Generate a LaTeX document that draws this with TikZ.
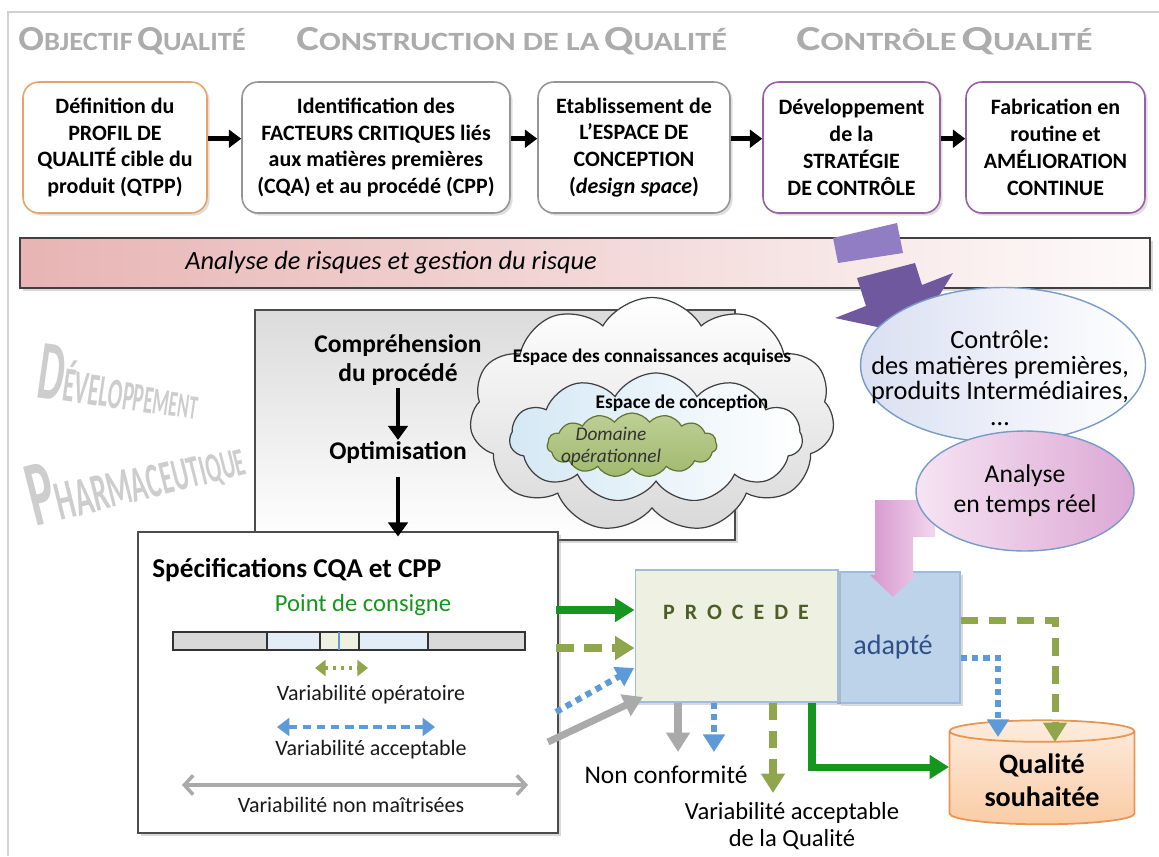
\documentclass[tikz,border=0pt]{standalone}
\usepackage{fontspec}
\usepackage{graphicx}
\setmainfont{Carlito}
\usetikzlibrary{arrows.meta,positioning,shapes.geometric,shapes.symbols,shadows}

\definecolor{hdrgray}{RGB}{172,172,172}
\definecolor{qtppor}{RGB}{233,163,103}
\definecolor{stagegray}{RGB}{150,150,150}
\definecolor{ctrlpurple}{RGB}{155,95,165}
\definecolor{riskpink}{RGB}{232,180,180}
\definecolor{olivegr}{RGB}{143,166,76}
\definecolor{setgreen}{RGB}{22,150,30}
\definecolor{varblue}{RGB}{92,155,215}
\definecolor{vargray}{RGB}{170,170,170}
\definecolor{procfill}{RGB}{238,240,226}
\definecolor{procline}{RGB}{160,188,220}
\definecolor{adaptfill}{RGB}{189,211,233}
\definecolor{adapttxt}{RGB}{47,80,135}
\definecolor{proctxt}{RGB}{78,92,38}
\definecolor{ellline}{RGB}{120,155,200}
\definecolor{arrpurple}{RGB}{112,88,158}
\definecolor{arrlilac}{RGB}{145,125,195}
\definecolor{pinkdark}{RGB}{215,150,205}
\definecolor{pinklight}{RGB}{242,215,238}
\definecolor{qualline}{RGB}{230,150,80}
\definecolor{devgray}{RGB}{205,205,205}

\newcommand{\hdrword}[2]{{\fontsize{20}{20}\selectfont #1}{\fontsize{15}{15}\selectfont #2}}

\begin{document}
\begin{tikzpicture}[x=0.02cm,y=-0.02cm,
  stage/.style={draw=stagegray, line width=0.9pt, rounded corners=9pt, fill=white, align=center,
    font=\fontsize{12.5}{15.3}\selectfont\bfseries, minimum height=2.62cm, inner sep=2pt,
    drop shadow={opacity=0.25,shadow xshift=1.5pt,shadow yshift=-1.5pt}},
  stagearrow/.style={-{Triangle[length=7pt,width=10pt]}, line width=3pt},
  hdr/.style={text=hdrgray, font=\bfseries, inner sep=0pt},
  devtxt/.style={text=devgray, font=\bfseries, inner sep=0pt},
  steptxt/.style={font=\fontsize{14.5}{17}\selectfont\bfseries, align=center, inner sep=1pt},
  downarrow/.style={-{Triangle[length=8pt,width=11pt]}, line width=2.8pt},
  puff/.style={cloud, cloud puffs=11, cloud puff arc=120, draw=black!75, line width=0.7pt},
  cloudtxt/.style={font=\fontsize{11}{12.5}\selectfont\bfseries, inner sep=0pt},
  spectxt/.style={font=\fontsize{12.5}{14}\selectfont, text=black!90, inner sep=0pt},
  okarrow/.style={setgreen, line width=4pt, -{Triangle[length=11pt,width=13pt]}},
  olivearrow/.style={olivegr, line width=4pt, dash pattern=on 10pt off 6pt, -{Triangle[length=11pt,width=13pt]}},
  bluearrow/.style={varblue, line width=3.5pt, dash pattern=on 3.5pt off 3pt, -{Triangle[length=10pt,width=12pt]}},
  grayarrow/.style={vargray, line width=4pt, -{Triangle[length=11pt,width=13pt]}},
  lbl/.style={font=\fontsize{14.5}{15.3}\selectfont, align=center, inner sep=0pt},
  boxshadow/.style={drop shadow={opacity=0.3,shadow xshift=1.5pt,shadow yshift=-1.5pt}},
]
\useasboundingbox (0,0) rectangle (1159,856);
\draw[line width=0.6pt, black!18] (8,856) -- (8,12) -- (1159,12);

% titres
\node[hdr, anchor=base west] (hobj) at (18,50) {\scalebox{1.08}[1]{\hdrword{O}{BJECTIF} \hdrword{Q}{UALITÉ}}};
\node[hdr, anchor=base west] (hcons) at (296,50) {\scalebox{1.22}[1]{\hdrword{C}{ONSTRUCTION DE LA} \hdrword{Q}{UALITÉ}}};
\node[hdr, anchor=base west] (hctrl) at (796,50) {\scalebox{1.3}[1]{\hdrword{C}{ONTRÔLE} \hdrword{Q}{UALITÉ}}};

% etapes
\node[stage, draw=qtppor, minimum width=3.68cm] (qtpp) at (115,147.5) {Définition du\\PROFIL DE\\QUALITÉ cible du\\produit (QTPP)};
\node[stage, minimum width=5.36cm] (crit) at (376,147.5) {Identification des\\FACTEURS CRITIQUES liés\\aux matières premières\\(CQA) et au procédé (CPP)};
\node[stage, minimum width=3.84cm] (space) at (634,147.5) {Etablissement de\\L’ESPACE DE\\CONCEPTION\\(\textit{design space})};
\node[stage, draw=ctrlpurple, minimum width=3.54cm] (strat) at (851.5,147.5) {Développement\\de la\\STRATÉGIE\\DE CONTRÔLE};
\node[stage, draw=ctrlpurple, minimum width=3.58cm] (fabr) at (1055.5,147.5) {Fabrication en\\routine et\\AMÉLIORATION\\CONTINUE};
\foreach \a/\b in {qtpp/crit, crit/space, space/strat, strat/fabr}
  \draw[stagearrow] ([yshift=5pt]\a.east) -- ([yshift=5pt]\b.west);

% risque
\node[draw=black!75, line width=0.9pt, minimum width=22.6cm, minimum height=1cm,
  left color=riskpink, right color=riskpink!6, boxshadow] (risk) at (585,263) {};
\node[font=\fontsize{15}{15}\selectfont\itshape, anchor=west, inner sep=0pt] (risktxt) at (185,263) {Analyse de risques et gestion du risque};

\fill[arrlilac] (833,238) -- (897,223) -- (903,253) -- (838,263) -- cycle;
\fill[arrpurple] (857,278) -- (915,263) -- (922,285) -- (953,273) -- (915,335) -- (835,318) -- (866,306) -- cycle;

\node[ellipse, draw=ellline, line width=0.8pt, minimum width=5.7cm, minimum height=3.1cm,
  left color={rgb,255:red,218;green,224;blue,242}, right color=white] (ctrl) at (1003,365) {};
\node[align=center, font=\fontsize{15}{14.6}\selectfont, inner sep=0pt] (ctrltxt) at (1000,378) {Contrôle:\\des matières premières,\\produits Intermédiaires,\\…};

% developpement
\node[devtxt, anchor=base west, rotate=-8] (devA) at (35,397) {\scalebox{0.49}[1]{{\fontsize{48}{48}\selectfont D}\foreach \l/\s in {É/28,V/27.2,E/26.4,L/25.6,O/24.8,P/24,P/23.2,E/22.4,M/21.6,E/20.8,N/20,T/19.4}{\fontsize{\s}{\s}\selectfont\l}}};
\node[devtxt, anchor=base west, rotate=14] (devB) at (35,527) {\scalebox{0.53}[1]{{\fontsize{53}{53}\selectfont P}\foreach \l/\s in {H/32,A/31.2,R/30.4,M/29.6,A/28.8,C/28,E/27.2,U/26.4,T/25.6,I/24.8,Q/24,U/23.2,E/22.4}{\fontsize{\s}{\s}\selectfont\l}}};

\draw[black!70, line width=0.9pt, top color=black!14, bottom color=white, boxshadow] (255,310) rectangle (735,540);
\node[steptxt] (proccomp) at (398,360) {Compréhension\\du procédé};
\node[steptxt] (optim) at (398,453) {Optimisation};
\draw[downarrow] (proccomp) -- (optim);

\node[puff, minimum width=7.3cm, minimum height=4.7cm, top color=white, bottom color=black!15] (known) at (652,415) {};
\node[puff, minimum width=5.86cm, minimum height=2.6cm, left color={rgb,255:red,212;green,232;blue,244}, right color=white] (dspace) at (656,438) {};
\node[puff, cloud puffs=15, cloud puff arc=110, draw=olivegr!70!black, minimum width=3.4cm, minimum height=1.28cm,
  top color={rgb,255:red,190;green,208;blue,150}, bottom color={rgb,255:red,160;green,185;blue,110}] (opdom) at (632,445) {};
\node[cloudtxt] (knowntxt) at (652,357) {Espace des connaissances acquises};
\node[cloudtxt] (dspacetxt) at (682,403) {Espace de conception};
\node[font=\fontsize{11}{12.5}\selectfont\itshape, text=black!80, align=center, inner sep=0pt] (opdomtxt) at (611,446) {Domaine\\opérationnel};

% specifications
\node[draw=black!70, line width=0.9pt, fill=white, minimum width=8.4cm, minimum height=6.02cm, boxshadow] (spec) at (348,682.5) {};
\draw[downarrow, shorten <=6pt] (optim) -- ([yshift=-3pt]spec.north -| optim);
\node[font=\fontsize{15.5}{15.5}\selectfont\bfseries, anchor=west, inner sep=0pt] (spectitle) at (152,570) {Spécifications CQA et CPP};
\node[font=\fontsize{14}{14}\selectfont, text=setgreen, inner sep=0pt] (setpt) at (363,605) {Point de consigne};
\foreach \a/\b/\c in {173/267/black!15, 267/320/varblue!18, 320/359/procfill, 359/428/varblue!18, 428/525/black!15}
  \draw[black!80, line width=0.7pt, fill=\c] (\a,632) rectangle (\b,650);
\draw[varblue, line width=1.2pt] (339,632) -- (339,650);
\coordinate (opL) at (315,668);
\coordinate (opR) at (368,668);
\draw[olivegr, line width=2.5pt, dash pattern=on 2pt off 2.5pt, {Triangle[length=6pt,width=9pt]}-{Triangle[length=6pt,width=9pt]}] (opL) -- (opR);
\node[spectxt] (varop) at (371,695) {Variabilité opératoire};
\coordinate (acL) at (277,727);
\coordinate (acR) at (435,727);
\draw[varblue, line width=2.2pt, dash pattern=on 5pt off 3pt, {Triangle[length=7pt,width=10pt]}-{Triangle[length=7pt,width=10pt]}] (acL) -- (acR);
\node[spectxt] (varac) at (371,750) {Variabilité acceptable};
\coordinate (nmL) at (182,785);
\coordinate (nmR) at (528,785);
\draw[vargray, line width=2pt, {Straight Barb[length=5pt,width=11pt]}-{Straight Barb[length=5pt,width=11pt]}] (nmL) -- (nmR);
\node[spectxt] (varnm) at (351,805) {Variabilité non maîtrisées};

% procede
\node[draw=procline, line width=0.6pt, fill=adaptfill, minimum width=2.44cm, minimum height=2.62cm, boxshadow] (adapt) at (899,637.5) {};
\shade[left color=pinkdark, right color=pinklight] (935,500) -- (875,500) -- (875,575) -- (870,575) -- (893,597) -- (916,575) -- (913,575) -- (913,537) -- (935,537) -- cycle;
\node[ellipse, draw=ellline, line width=0.8pt, minimum width=4.36cm, minimum height=2.4cm,
  left color={rgb,255:red,246;green,228;blue,243}, right color={rgb,255:red,220;green,168;blue,213}, align=center,
  font=\fontsize{14.6}{17}\selectfont, inner sep=0pt] (analyse) at (1025,491) {Analyse\\en temps réel};
\node[draw=procline, line width=0.6pt, fill=procfill, minimum width=4.06cm, minimum height=2.64cm, boxshadow] (proc) at (736.5,636) {};
\node[text=proctxt, font=\fontsize{12.5}{12.5}\selectfont\bfseries, inner sep=0pt] (proctxt) at (736,612) {P\kern.2cm R\kern.2cm O\kern.2cm C\kern.2cm E\kern.2cm D\kern.2cm E};
\node[text=adapttxt, font=\fontsize{16}{16}\selectfont, inner sep=0pt] (adapttxt) at (893,647) {adapté};

\node[cylinder, shape border rotate=90, aspect=0.17, draw=qualline, line width=1pt, minimum width=3.7cm, minimum height=2.08cm,
  top color={rgb,255:red,253;green,236;blue,222}, bottom color={rgb,255:red,250;green,204;blue,165},
  align=center, font=\fontsize{16}{19}\selectfont\bfseries] (qual) at (1042,780) {Qualité\\souhaitée};

% fleches
\coordinate (inok) at (556,610);
\draw[okarrow] (inok) -- (inok -| proc.west);
\coordinate (inolive) at (556,648);
\draw[olivearrow] (inolive) -- (inolive -| proc.west);
\coordinate (inblue) at (556,712);
\coordinate (atblue) at (634,668);
\draw[bluearrow] (inblue) -- (atblue);
\coordinate (ingray) at (548,742);
\coordinate (atgray) at (643,697);
\draw[grayarrow] (ingray) -- (atgray);

\coordinate (ncgray) at (678,752);
\draw[grayarrow] (proc.south -| ncgray) -- (ncgray);
\coordinate (ncblue) at (714,752);
\draw[bluearrow] (proc.south -| ncblue) -- (ncblue);
\coordinate (vaq) at (773,793);
\draw[olivearrow] (proc.south -| vaq) -- (vaq);
\coordinate (okdown) at (812,767);
\coordinate (qin) at (949,767);
\draw[okarrow] (proc.south -| okdown) -- (okdown) -- (qin);

\coordinate (olq) at (1055,742);
\draw[olivearrow] ([yshift=0.35cm]adapt.east) -| (olq);
\coordinate (blq) at (998,737);
\draw[bluearrow] ([yshift=-0.41cm]adapt.east) -| (blq);

\node[lbl] (nonconf) at (666,775) {Non conformité};
\node[lbl, font=\fontsize{14}{15.3}\selectfont] (vaqtxt) at (792,826) {Variabilité acceptable\\de la Qualité};
\end{tikzpicture}
\end{document}
